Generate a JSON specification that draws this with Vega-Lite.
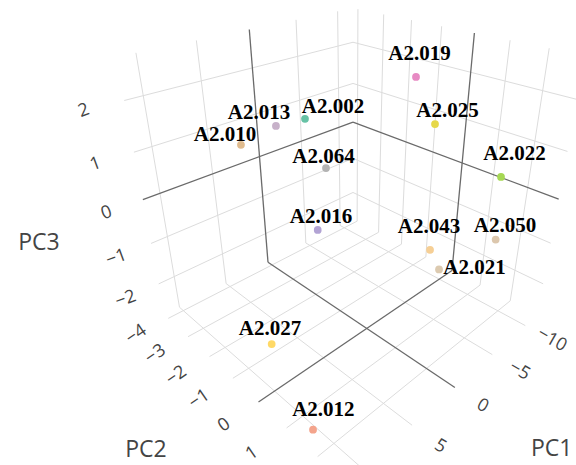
{
  "$schema": "https://vega.github.io/schema/vega-lite/v6.json",
  "width": 576,
  "height": 465,
  "autosize": "none",
  "padding": 0,
  "background": "white",
  "config": {"view": {"stroke": null}},
  "datasets": {
    "grid": [
      {"v": -10, "p1": -10, "q1": -4.2, "r1": -2.82, "p2": -10, "q2": -4.2, "r2": 2.78},
      {"v": -5, "p1": -5, "q1": -4.2, "r1": -2.82, "p2": -5, "q2": -4.2, "r2": 2.78},
      {"v": 0, "p1": 0, "q1": -4.2, "r1": -2.82, "p2": 0, "q2": -4.2, "r2": 2.78},
      {"v": 5, "p1": 5, "q1": -4.2, "r1": -2.82, "p2": 5, "q2": -4.2, "r2": 2.78},
      {"v": 10, "p1": 10, "q1": -4.2, "r1": -2.82, "p2": 10, "q2": -4.2, "r2": 2.78},
      {"v": -2, "p1": -12, "q1": -4.2, "r1": -2, "p2": 11.5, "q2": -4.2, "r2": -2},
      {"v": -1, "p1": -12, "q1": -4.2, "r1": -1, "p2": 11.5, "q2": -4.2, "r2": -1},
      {"v": 0, "p1": -12, "q1": -4.2, "r1": 0, "p2": 11.5, "q2": -4.2, "r2": 0},
      {"v": 1, "p1": -12, "q1": -4.2, "r1": 1, "p2": 11.5, "q2": -4.2, "r2": 1},
      {"v": 2, "p1": -12, "q1": -4.2, "r1": 2, "p2": 11.5, "q2": -4.2, "r2": 2},
      {"v": -4, "p1": -12, "q1": -4, "r1": -2.82, "p2": -12, "q2": -4, "r2": 2.78},
      {"v": -3, "p1": -12, "q1": -3, "r1": -2.82, "p2": -12, "q2": -3, "r2": 2.78},
      {"v": -2, "p1": -12, "q1": -2, "r1": -2.82, "p2": -12, "q2": -2, "r2": 2.78},
      {"v": -1, "p1": -12, "q1": -1, "r1": -2.82, "p2": -12, "q2": -1, "r2": 2.78},
      {"v": 0, "p1": -12, "q1": 0, "r1": -2.82, "p2": -12, "q2": 0, "r2": 2.78},
      {"v": 1, "p1": -12, "q1": 1, "r1": -2.82, "p2": -12, "q2": 1, "r2": 2.78},
      {"v": 2, "p1": -12, "q1": 2, "r1": -2.82, "p2": -12, "q2": 2, "r2": 2.78},
      {"v": -2, "p1": -12, "q1": -4.2, "r1": -2, "p2": -12, "q2": 2.84, "r2": -2},
      {"v": -1, "p1": -12, "q1": -4.2, "r1": -1, "p2": -12, "q2": 2.84, "r2": -1},
      {"v": 0, "p1": -12, "q1": -4.2, "r1": 0, "p2": -12, "q2": 2.84, "r2": 0},
      {"v": 1, "p1": -12, "q1": -4.2, "r1": 1, "p2": -12, "q2": 2.84, "r2": 1},
      {"v": 2, "p1": -12, "q1": -4.2, "r1": 2, "p2": -12, "q2": 2.84, "r2": 2},
      {"v": -10, "p1": -10, "q1": -4.2, "r1": -2.82, "p2": -10, "q2": 2.84, "r2": -2.82},
      {"v": -5, "p1": -5, "q1": -4.2, "r1": -2.82, "p2": -5, "q2": 2.84, "r2": -2.82},
      {"v": 0, "p1": 0, "q1": -4.2, "r1": -2.82, "p2": 0, "q2": 2.84, "r2": -2.82},
      {"v": 5, "p1": 5, "q1": -4.2, "r1": -2.82, "p2": 5, "q2": 2.84, "r2": -2.82},
      {"v": 10, "p1": 10, "q1": -4.2, "r1": -2.82, "p2": 10, "q2": 2.84, "r2": -2.82},
      {"v": -4, "p1": -12, "q1": -4, "r1": -2.82, "p2": 11.5, "q2": -4, "r2": -2.82},
      {"v": -3, "p1": -12, "q1": -3, "r1": -2.82, "p2": 11.5, "q2": -3, "r2": -2.82},
      {"v": -2, "p1": -12, "q1": -2, "r1": -2.82, "p2": 11.5, "q2": -2, "r2": -2.82},
      {"v": -1, "p1": -12, "q1": -1, "r1": -2.82, "p2": 11.5, "q2": -1, "r2": -2.82},
      {"v": 0, "p1": -12, "q1": 0, "r1": -2.82, "p2": 11.5, "q2": 0, "r2": -2.82},
      {"v": 1, "p1": -12, "q1": 1, "r1": -2.82, "p2": 11.5, "q2": 1, "r2": -2.82},
      {"v": 2, "p1": -12, "q1": 2, "r1": -2.82, "p2": 11.5, "q2": 2, "r2": -2.82}
    ],
    "points": [
      {"name": "A2.019", "PC1": -8.97, "PC2": -1.0, "PC3": 1.89, "L1": -9.27, "L3": 2.34},
      {"name": "A2.025", "PC1": -9.83, "PC2": -0.5, "PC3": 0.93, "L1": -11.48, "L3": 1.11},
      {"name": "A2.002", "PC1": -2.28, "PC2": -3.0, "PC3": 1.0, "L1": -5.58, "L3": 1.05},
      {"name": "A2.013", "PC1": -0.36, "PC2": -3.5, "PC3": 0.86, "L1": 1.31, "L3": 1.25},
      {"name": "A2.010", "PC1": 3.37, "PC2": -3.5, "PC3": 0.71, "L1": 4.79, "L3": 1.03},
      {"name": "A2.064", "PC1": -1.63, "PC2": -2.0, "PC3": 0.19, "L1": -1.38, "L3": 0.46},
      {"name": "A2.022", "PC1": -10.41, "PC2": 1.5, "PC3": 0.23, "L1": -12.08, "L3": 0.59},
      {"name": "A2.016", "PC1": 0.93, "PC2": -1.5, "PC3": -0.85, "L1": 0.53, "L3": -0.59},
      {"name": "A2.043", "PC1": -5.98, "PC2": 0.5, "PC3": -1.36, "L1": -5.61, "L3": -0.77},
      {"name": "A2.050", "PC1": -9.14, "PC2": 1.8, "PC3": -0.98, "L1": -10.37, "L3": -0.79},
      {"name": "A2.021", "PC1": -6.13, "PC2": 0.8, "PC3": -1.75, "L1": -11.75, "L3": -2.40},
      {"name": "A2.027", "PC1": 8.36, "PC2": -0.68, "PC3": -2.30, "L1": 8.40, "L3": -1.93},
      {"name": "A2.012", "PC1": 11.2, "PC2": 1.78, "PC3": -2.40, "L1": 10.23, "L3": -2.13}
    ],
    "ticks3": [
      {"v": 2, "t": "2"}, {"v": 1, "t": "1"}, {"v": 0, "t": "0"}, {"v": -1, "t": "−1"}, {"v": -2, "t": "−2"}
    ],
    "ticks2": [
      {"v": -4, "t": "−4"}, {"v": -3, "t": "−3"}, {"v": -2, "t": "−2"}, {"v": -1, "t": "−1"}, {"v": 0, "t": "0"}, {"v": 1, "t": "1"}
    ],
    "ticks1": [
      {"v": -10, "t": "−10"}, {"v": -5, "t": "−5"}, {"v": 0, "t": "0"}, {"v": 5, "t": "5"}
    ],
    "titles": [
      {"t": "PC3", "P": 19.6, "Q": -4.2, "R": -0.1},
      {"t": "PC2", "P": 19.5, "Q": -0.6, "R": -2.82},
      {"t": "PC1", "P": -0.25, "Q": 5.25, "R": -2.82}
    ]
  },
  "layer": [
    {
      "data": {"name": "grid"},
      "transform": [
        {"filter": "datum.v !== 0"},
        {"calculate": "-0.00907*(datum.p1+12)", "as": "a1"},
        {"calculate": "-0.03077*(datum.q1+4.2)", "as": "b1"},
        {"calculate": "-0.0287*(datum.r1+2.82)", "as": "c1"},
        {"calculate": "-0.00907*(datum.p2+12)", "as": "a2"},
        {"calculate": "-0.03077*(datum.q2+4.2)", "as": "b2"},
        {"calculate": "-0.0287*(datum.r2+2.82)", "as": "c2"},
        {"calculate": "(353+1049*datum.a1-314*datum.b1+353*datum.c1)/(1+datum.a1+datum.b1+datum.c1)", "as": "sx1"},
        {"calculate": "(219-135*datum.a1-128*datum.b1+1320*datum.c1)/(1+datum.a1+datum.b1+datum.c1)", "as": "sy1"},
        {"calculate": "(353+1049*datum.a2-314*datum.b2+353*datum.c2)/(1+datum.a2+datum.b2+datum.c2)", "as": "sx2"},
        {"calculate": "(219-135*datum.a2-128*datum.b2+1320*datum.c2)/(1+datum.a2+datum.b2+datum.c2)", "as": "sy2"}
      ],
      "mark": {"type": "rule", "color": "#dcdcdc", "strokeWidth": 1},
      "encoding": {
        "x": {"field": "sx1", "type": "quantitative", "scale": {"domain": [0, 576], "nice": false, "zero": false}, "axis": null},
        "y": {"field": "sy1", "type": "quantitative", "scale": {"domain": [0, 465], "nice": false, "zero": false, "reverse": true}, "axis": null},
        "x2": {"field": "sx2"},
        "y2": {"field": "sy2"}
      }
    },
    {
      "data": {"name": "grid"},
      "transform": [
        {"filter": "datum.v === 0"},
        {"calculate": "-0.00907*(datum.p1+12)", "as": "a1"},
        {"calculate": "-0.03077*(datum.q1+4.2)", "as": "b1"},
        {"calculate": "-0.0287*(datum.r1+2.82)", "as": "c1"},
        {"calculate": "-0.00907*(datum.p2+12)", "as": "a2"},
        {"calculate": "-0.03077*(datum.q2+4.2)", "as": "b2"},
        {"calculate": "-0.0287*(datum.r2+2.82)", "as": "c2"},
        {"calculate": "(353+1049*datum.a1-314*datum.b1+353*datum.c1)/(1+datum.a1+datum.b1+datum.c1)", "as": "sx1"},
        {"calculate": "(219-135*datum.a1-128*datum.b1+1320*datum.c1)/(1+datum.a1+datum.b1+datum.c1)", "as": "sy1"},
        {"calculate": "(353+1049*datum.a2-314*datum.b2+353*datum.c2)/(1+datum.a2+datum.b2+datum.c2)", "as": "sx2"},
        {"calculate": "(219-135*datum.a2-128*datum.b2+1320*datum.c2)/(1+datum.a2+datum.b2+datum.c2)", "as": "sy2"}
      ],
      "mark": {"type": "rule", "color": "#6a6a6a", "strokeWidth": 1.3},
      "encoding": {
        "x": {"field": "sx1", "type": "quantitative", "scale": {"domain": [0, 576], "nice": false, "zero": false}, "axis": null},
        "y": {"field": "sy1", "type": "quantitative", "scale": {"domain": [0, 465], "nice": false, "zero": false, "reverse": true}, "axis": null},
        "x2": {"field": "sx2"},
        "y2": {"field": "sy2"}
      }
    },
    {
      "data": {"name": "points"},
      "transform": [
        {"calculate": "-0.00907*(datum.PC1+12)", "as": "ka"},
        {"calculate": "-0.03077*(datum.PC2+4.2)", "as": "kb"},
        {"calculate": "-0.0287*(datum.PC3+2.82)", "as": "kc"},
        {"calculate": "(353+1049*datum.ka-314*datum.kb+353*datum.kc)/(1+datum.ka+datum.kb+datum.kc)", "as": "sx"},
        {"calculate": "(219-135*datum.ka-128*datum.kb+1320*datum.kc)/(1+datum.ka+datum.kb+datum.kc)", "as": "sy"}
      ],
      "mark": {"type": "circle", "size": 60, "opacity": 1},
      "encoding": {
        "x": {"field": "sx", "type": "quantitative", "scale": {"domain": [0, 576], "nice": false, "zero": false}, "axis": null},
        "y": {"field": "sy", "type": "quantitative", "scale": {"domain": [0, 465], "nice": false, "zero": false, "reverse": true}, "axis": null},
        "color": {
          "field": "name", "type": "nominal", "legend": null,
          "scale": {
            "domain": ["A2.019", "A2.025", "A2.002", "A2.013", "A2.010", "A2.064", "A2.022", "A2.016", "A2.043", "A2.050", "A2.021", "A2.027", "A2.012"],
            "range": ["#e78ac3", "#e6d84a", "#66c2a5", "#c7b1c9", "#e0bb8e", "#b3b3b3", "#a6d854", "#b2a3d4", "#f6cf95", "#dcc7ad", "#dccab0", "#ffd966", "#f4a48c"]
          }
        }
      }
    },
    {
      "data": {"name": "points"},
      "transform": [
        {"calculate": "-0.00907*(datum.L1+12)", "as": "ka"},
        {"calculate": "-0.03077*(datum.PC2+4.2)", "as": "kb"},
        {"calculate": "-0.0287*(datum.L3+2.82)", "as": "kc"},
        {"calculate": "(353+1049*datum.ka-314*datum.kb+353*datum.kc)/(1+datum.ka+datum.kb+datum.kc)", "as": "sx"},
        {"calculate": "(219-135*datum.ka-128*datum.kb+1320*datum.kc)/(1+datum.ka+datum.kb+datum.kc)", "as": "sy"}
      ],
      "mark": {"type": "text", "font": "Liberation Serif", "fontWeight": "bold", "fontSize": 21, "color": "#000000", "align": "center", "baseline": "middle"},
      "encoding": {
        "x": {"field": "sx", "type": "quantitative", "scale": {"domain": [0, 576], "nice": false, "zero": false}, "axis": null},
        "y": {"field": "sy", "type": "quantitative", "scale": {"domain": [0, 465], "nice": false, "zero": false, "reverse": true}, "axis": null},
        "text": {"field": "name", "type": "nominal"}
      }
    },
    {
      "data": {"name": "ticks3"},
      "transform": [
        {"calculate": "-0.00907*(14.5+12)", "as": "ka"},
        {"calculate": "-0.03077*(-4.2+4.2)", "as": "kb"},
        {"calculate": "-0.0287*(datum.v+2.82)", "as": "kc"},
        {"calculate": "(353+1049*datum.ka-314*datum.kb+353*datum.kc)/(1+datum.ka+datum.kb+datum.kc)", "as": "sx"},
        {"calculate": "(219-135*datum.ka-128*datum.kb+1320*datum.kc)/(1+datum.ka+datum.kb+datum.kc)", "as": "sy"}
      ],
      "mark": {"type": "text", "font": "Open Sans", "fontSize": 18, "color": "#444444", "align": "center", "baseline": "middle", "angle": -20},
      "encoding": {
        "x": {"field": "sx", "type": "quantitative", "scale": {"domain": [0, 576], "nice": false, "zero": false}, "axis": null},
        "y": {"field": "sy", "type": "quantitative", "scale": {"domain": [0, 465], "nice": false, "zero": false, "reverse": true}, "axis": null},
        "text": {"field": "t", "type": "nominal"}
      }
    },
    {
      "data": {"name": "ticks2"},
      "transform": [
        {"calculate": "-0.00907*(14.5+12)", "as": "ka"},
        {"calculate": "-0.03077*(datum.v+4.2)", "as": "kb"},
        {"calculate": "0", "as": "kc"},
        {"calculate": "(353+1049*datum.ka-314*datum.kb+353*datum.kc)/(1+datum.ka+datum.kb+datum.kc)", "as": "sx"},
        {"calculate": "(219-135*datum.ka-128*datum.kb+1320*datum.kc)/(1+datum.ka+datum.kb+datum.kc)", "as": "sy"}
      ],
      "mark": {"type": "text", "font": "Open Sans", "fontSize": 18, "color": "#444444", "align": "center", "baseline": "middle", "angle": -35},
      "encoding": {
        "x": {"field": "sx", "type": "quantitative", "scale": {"domain": [0, 576], "nice": false, "zero": false}, "axis": null},
        "y": {"field": "sy", "type": "quantitative", "scale": {"domain": [0, 465], "nice": false, "zero": false, "reverse": true}, "axis": null},
        "text": {"field": "t", "type": "nominal"}
      }
    },
    {
      "data": {"name": "ticks1"},
      "transform": [
        {"calculate": "-0.00907*(datum.v+12)", "as": "ka"},
        {"calculate": "-0.03077*(3.6+4.2)", "as": "kb"},
        {"calculate": "0", "as": "kc"},
        {"calculate": "(353+1049*datum.ka-314*datum.kb+353*datum.kc)/(1+datum.ka+datum.kb+datum.kc)", "as": "sx"},
        {"calculate": "(219-135*datum.ka-128*datum.kb+1320*datum.kc)/(1+datum.ka+datum.kb+datum.kc)", "as": "sy"}
      ],
      "mark": {"type": "text", "font": "Open Sans", "fontSize": 18, "color": "#444444", "align": "center", "baseline": "middle", "angle": 30},
      "encoding": {
        "x": {"field": "sx", "type": "quantitative", "scale": {"domain": [0, 576], "nice": false, "zero": false}, "axis": null},
        "y": {"field": "sy", "type": "quantitative", "scale": {"domain": [0, 465], "nice": false, "zero": false, "reverse": true}, "axis": null},
        "text": {"field": "t", "type": "nominal"}
      }
    },
    {
      "data": {"name": "titles"},
      "transform": [
        {"calculate": "-0.00907*(datum.P+12)", "as": "ka"},
        {"calculate": "-0.03077*(datum.Q+4.2)", "as": "kb"},
        {"calculate": "-0.0287*(datum.R+2.82)", "as": "kc"},
        {"calculate": "(353+1049*datum.ka-314*datum.kb+353*datum.kc)/(1+datum.ka+datum.kb+datum.kc)", "as": "sx"},
        {"calculate": "(219-135*datum.ka-128*datum.kb+1320*datum.kc)/(1+datum.ka+datum.kb+datum.kc)", "as": "sy"}
      ],
      "mark": {"type": "text", "font": "Open Sans", "fontSize": 23, "color": "#444444", "align": "center", "baseline": "middle"},
      "encoding": {
        "x": {"field": "sx", "type": "quantitative", "scale": {"domain": [0, 576], "nice": false, "zero": false}, "axis": null},
        "y": {"field": "sy", "type": "quantitative", "scale": {"domain": [0, 465], "nice": false, "zero": false, "reverse": true}, "axis": null},
        "text": {"field": "t", "type": "nominal"}
      }
    }
  ]
}
